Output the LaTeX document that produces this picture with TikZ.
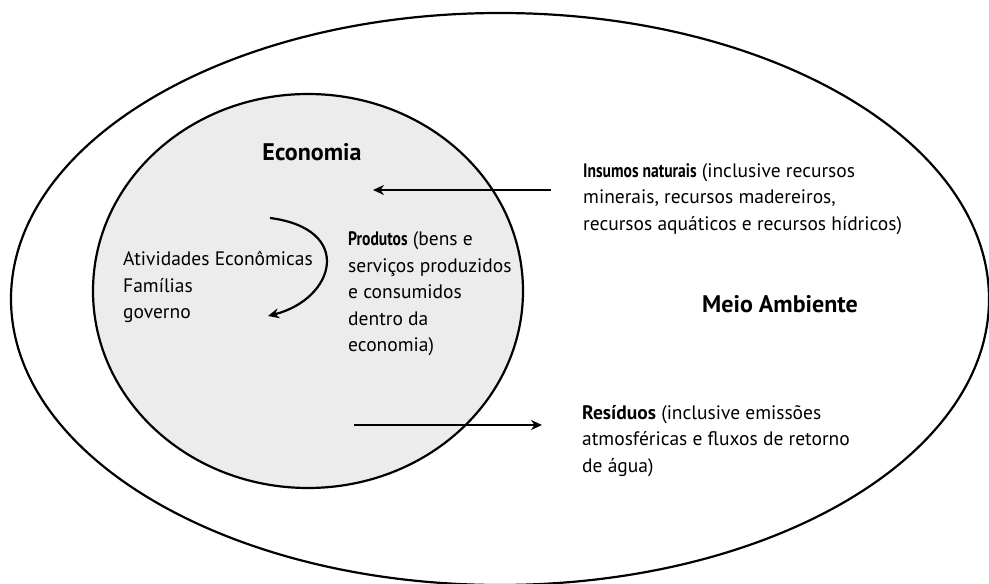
\documentclass[tikz,border=0pt]{standalone}
\usepackage{fontspec}
\setmainfont{PT Sans}
\newfontfamily\condfont[FakeStretch=0.8]{PT Sans}
\usetikzlibrary{arrows.meta}
\definecolor{econgray}{RGB}{236,236,236}
\tikzset{
    ring/.style={draw, line width=2.2pt},
    flow/.style={line width=2.2pt, -{Stealth[length=11pt,width=10pt]}},
    txt/.style={anchor=west, align=left, inner sep=0pt, font=\fontsize{19.5}{26.5}\selectfont},
    title/.style={inner sep=0pt, font=\fontsize{24}{28}\selectfont\bfseries}
}
\begin{document}
\begin{tikzpicture}[x=1pt, y=1pt]
    \useasboundingbox (0, 0) rectangle (989, 584);
    \coordinate (O) at (500, 285);
    \coordinate (E) at (308, 293);
    \draw[ring] (O) ellipse [x radius=489, y radius=286];
    \draw[ring, fill=econgray] (E) ellipse [x radius=215, y radius=197];
    \node[title] (economia) at (312, 432) {Economia};
    \node[title] (meio) at (780, 280) {Meio Ambiente};
    \node[txt] (agentes) at (123, 297) {Atividades Econômicas\\Famílias\\governo};
    \node[txt] (produtos) at (348, 290) {{\condfont\bfseries Produtos} (bens e\\serviços produzidos\\e consumidos\\dentro da\\economia)};
    \node[txt] (insumos) at (583, 385) {{\condfont\bfseries Insumos naturais} (inclusive recursos\\minerais, recursos madereiros,\\recursos aquáticos e recursos hídricos)};
    \node[txt] (residuos) at (582, 143) {\textbf{Resíduos} (inclusive emissões\\atmosféricas e fluxos de retorno\\de água)};
    % arrows
    \coordinate (inA) at (551, 394);
    \coordinate (inB) at (373, 394);
    \coordinate (outA) at (354, 159);
    \coordinate (outB) at (542, 159);
    \coordinate (loopA) at (270, 366);
    \coordinate (loopB) at (268, 268);
    \draw[flow] (inA) -- (inB);
    \draw[flow] (outA) -- (outB);
    \draw[flow] (loopA) .. controls (355, 355) and (335, 285) .. (loopB);
\end{tikzpicture}
\end{document}
